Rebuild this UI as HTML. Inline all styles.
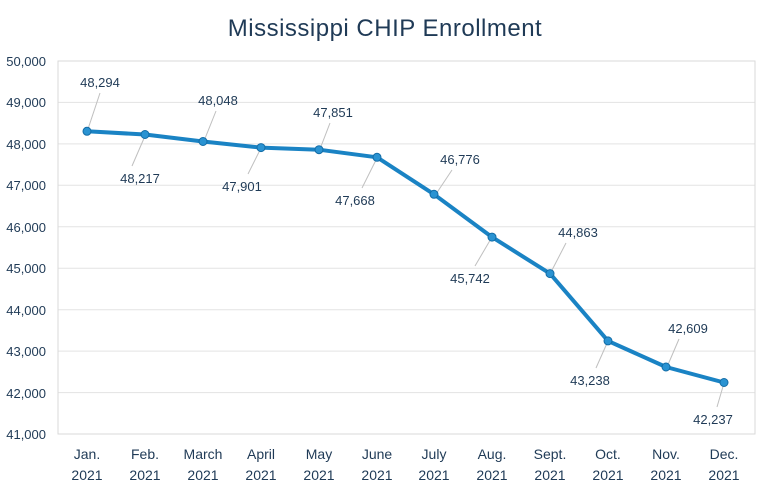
<!DOCTYPE html>
<html><head><style>
body{margin:0;background:#fff;}
svg{display:block;font-family:"Liberation Sans",sans-serif;}
</style></head><body>
<svg width="770" height="491" viewBox="0 0 770 491">
<text x="385" y="36" text-anchor="middle" font-size="24" fill="#1f3a56" letter-spacing="0.5">Mississippi CHIP Enrollment</text>
<g stroke="#e3e3e3" stroke-width="1">
<line x1="58" y1="61" x2="755" y2="61"/><line x1="58" y1="102.4" x2="755" y2="102.4"/>
<line x1="58" y1="143.9" x2="755" y2="143.9"/><line x1="58" y1="185.3" x2="755" y2="185.3"/>
<line x1="58" y1="226.8" x2="755" y2="226.8"/><line x1="58" y1="268.2" x2="755" y2="268.2"/>
<line x1="58" y1="309.7" x2="755" y2="309.7"/><line x1="58" y1="351.1" x2="755" y2="351.1"/>
<line x1="58" y1="392.6" x2="755" y2="392.6"/>
</g>
<rect x="58" y="61" width="697" height="373" fill="none" stroke="#d9d9d9"/>
<g font-size="13" fill="#1f3a56" text-anchor="end">
<text x="46" y="66">50,000</text><text x="46" y="107">49,000</text><text x="46" y="149">48,000</text>
<text x="46" y="190">47,000</text><text x="46" y="232">46,000</text><text x="46" y="273">45,000</text>
<text x="46" y="315">44,000</text><text x="46" y="356">43,000</text><text x="46" y="398">42,000</text>
<text x="46" y="439">41,000</text>
</g>
<g font-size="14" fill="#1f3a56" text-anchor="middle">
<text x="87" y="459">Jan.</text><text x="87" y="480">2021</text>
<text x="145" y="459">Feb.</text><text x="145" y="480">2021</text>
<text x="203" y="459">March</text><text x="203" y="480">2021</text>
<text x="261" y="459">April</text><text x="261" y="480">2021</text>
<text x="319" y="459">May</text><text x="319" y="480">2021</text>
<text x="377" y="459">June</text><text x="377" y="480">2021</text>
<text x="434" y="459">July</text><text x="434" y="480">2021</text>
<text x="492" y="459">Aug.</text><text x="492" y="480">2021</text>
<text x="550" y="459">Sept.</text><text x="550" y="480">2021</text>
<text x="608" y="459">Oct.</text><text x="608" y="480">2021</text>
<text x="666" y="459">Nov.</text><text x="666" y="480">2021</text>
<text x="724" y="459">Dec.</text><text x="724" y="480">2021</text>
</g>
<g stroke="#bfbfbf" stroke-width="1">
<line x1="88" y1="129" x2="100" y2="93"/><line x1="145" y1="136" x2="132" y2="166"/>
<line x1="204" y1="141" x2="216" y2="111"/><line x1="261" y1="148" x2="248" y2="174"/>
<line x1="320" y1="149" x2="330" y2="123"/><line x1="377" y1="158" x2="362" y2="188"/>
<line x1="436" y1="194" x2="452" y2="170"/><line x1="492" y1="237" x2="475" y2="266"/>
<line x1="550" y1="274" x2="566" y2="243"/><line x1="608" y1="341" x2="596" y2="368"/>
<line x1="667" y1="367" x2="679" y2="339"/><line x1="724" y1="383" x2="717" y2="407"/>
</g>
<polyline fill="none" stroke="#1a83c4" stroke-width="4" stroke-linejoin="round"
points="87,131.3 145,134.5 203,141.5 261,147.6 319,149.7 377,157.3 434,194.3 492,237.1 550,273.6 608,340.9 666,367 724,382.5"/>
<g fill="#2a93d2" stroke="#136ca6" stroke-width="1">
<circle cx="87" cy="131.3" r="4"/><circle cx="145" cy="134.5" r="4"/><circle cx="203" cy="141.5" r="4"/>
<circle cx="261" cy="147.6" r="4"/><circle cx="319" cy="149.7" r="4"/><circle cx="377" cy="157.3" r="4"/>
<circle cx="434" cy="194.3" r="4"/><circle cx="492" cy="237.1" r="4"/><circle cx="550" cy="273.6" r="4"/>
<circle cx="608" cy="340.9" r="4"/><circle cx="666" cy="367" r="4"/><circle cx="724" cy="382.5" r="4"/>
</g>
<g font-size="13" fill="#1f3a56" text-anchor="middle">
<text x="100" y="87">48,294</text><text x="140" y="183">48,217</text>
<text x="218" y="105">48,048</text><text x="242" y="191">47,901</text>
<text x="333" y="117">47,851</text><text x="355" y="205">47,668</text>
<text x="460" y="164">46,776</text><text x="470" y="283">45,742</text>
<text x="578" y="237">44,863</text><text x="590" y="385">43,238</text>
<text x="688" y="333">42,609</text><text x="713" y="424">42,237</text>
</g>
</svg>
</body></html>
